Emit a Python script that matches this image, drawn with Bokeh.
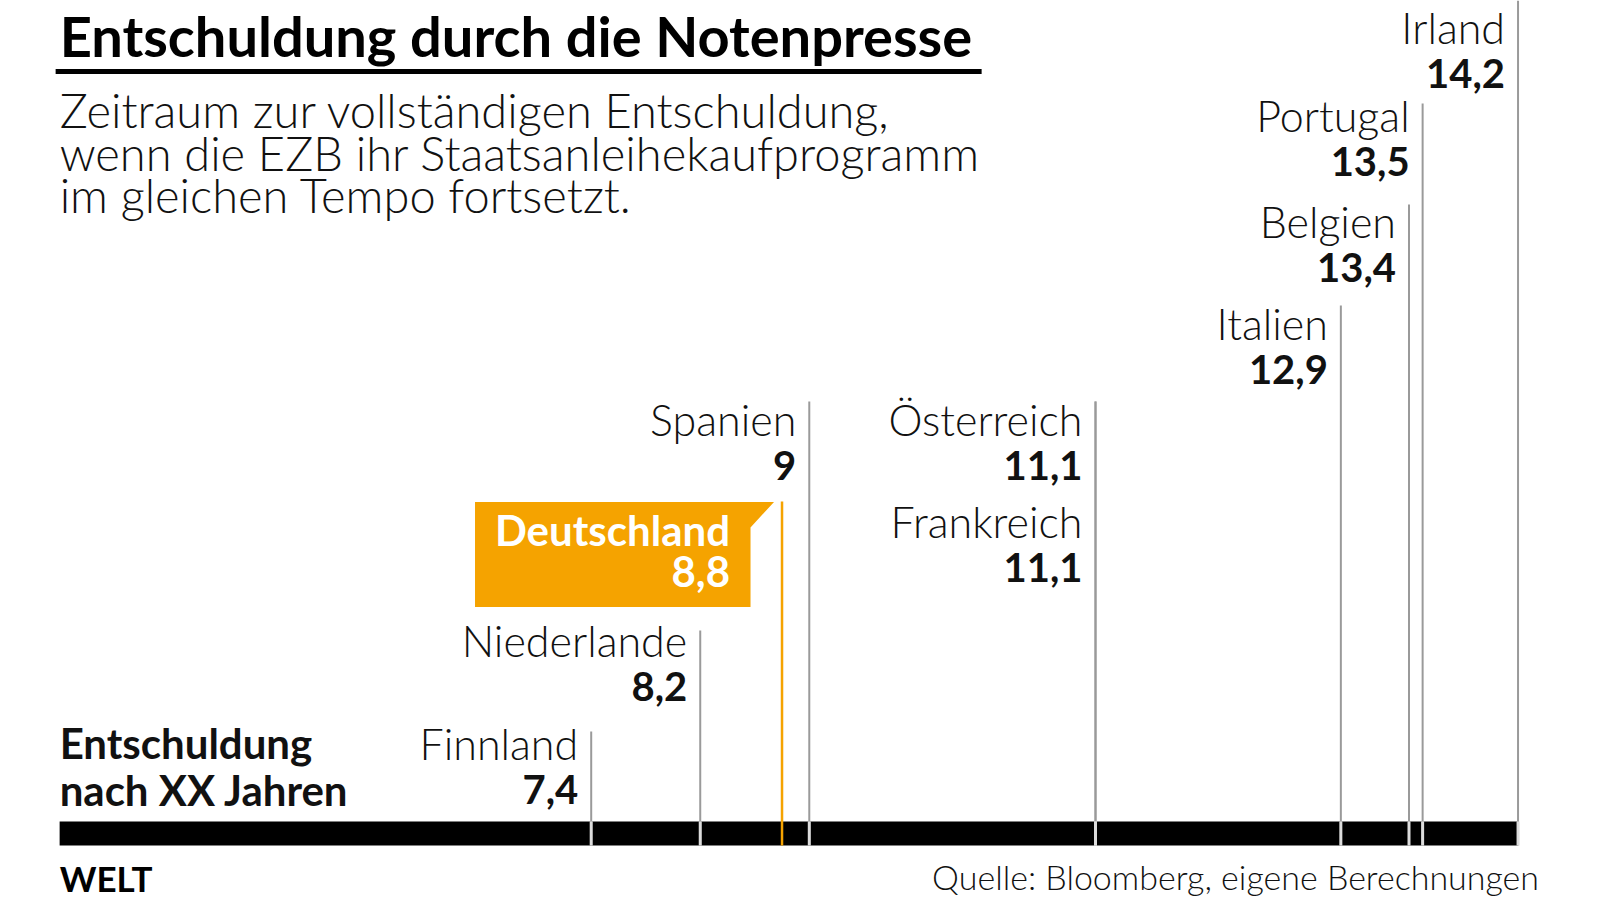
from bokeh.plotting import figure
from bokeh.models import Range1d, ColumnDataSource
from bokeh.core.properties import value
from bokeh.embed import file_html
from bokeh.resources import INLINE

# ---------------- data ----------------
countries = ["Finnland", "Niederlande", "Deutschland", "Spanien", "Österreich",
             "Frankreich", "Italien", "Belgien", "Portugal", "Irland"]
years = [7.4, 8.2, 8.8, 9.0, 11.1, 11.1, 12.9, 13.4, 13.5, 14.2]
year_labels = ["7,4", "8,2", "8,8", "9", "11,1", "11,1", "12,9", "13,4", "13,5", "14,2"]
highlight = "Deutschland"

title = "Entschuldung durch die Notenpresse"
subtitle = ["Zeitraum zur vollständigen Entschuldung,",
            "wenn die EZB ihr Staatsanleihekaufprogramm",
            "im gleichen Tempo fortsetzt."]
axis_label = ["Entschuldung", "nach XX Jahren"]
source_text = "Quelle: Bloomberg, eigene Berechnungen"
brand = "WELT"

# ---------------- layout (page pixels) ----------------
line_top = [731, 630, 501, 401, 401, 401, 305, 204, 103, 0]
name_base = [759, 656, 545, 435, 435, 537, 339, 237, 131, 43]
PX = 1 / 136.3          # data units per pixel
BAR_START = 3.5
LIGHT = value("Lato Light")
BOLD = value("Lato")
ORANGE = "#f5a300"
GREY = "#9a9a9a"
TXT = "#111111"
SHIFT = 0.37            # baseline correction (em) for the svg text renderer


def yoff(size):
    return -SHIFT * size


p = figure(width=1600, height=900, x_range=Range1d(3.0662, 14.805),
           y_range=Range1d(900, 0), output_backend="svg", toolbar_location=None,
           min_border=0, x_axis_location=None, y_axis_location=None)
p.grid.visible = False
p.outline_line_color = None
p.background_fill_color = "white"
p.border_fill_color = "white"

# base bar
p.quad(left=[BAR_START], right=[max(years)], top=[821], bottom=[845],
       fill_color="black", line_color=None)

others = [i for i, c in enumerate(countries) if c != highlight]
hi = countries.index(highlight)

seg = ColumnDataSource(dict(x=[years[i] for i in others],
                            y0=[line_top[i] for i in others]))
p.segment(x0="x", y0="y0", x1="x", y1=845, source=seg, line_color=GREY, line_width=2)
p.segment(x0="x", y0=821, x1="x", y1=845, source=seg, line_color="#dcdcdc", line_width=3)

# highlighted box with notch
xh = years[hi]
box_x = [xh - 307 * PX, xh - 8 * PX, xh - 31.5 * PX, xh - 31.5 * PX, xh - 307 * PX]
box_y = [501.5, 501.5, 527, 606.5, 606.5]
p.patch(box_x, box_y, fill_color=ORANGE, line_color=None)
p.segment(x0=[xh], y0=[line_top[hi]], x1=[xh], y1=[845], line_color=ORANGE, line_width=2.5)

# labels of the other countries
lab = ColumnDataSource(dict(
    x=[years[i] for i in others],
    name=[countries[i] for i in others],
    val=[year_labels[i] for i in others],
    yn=[name_base[i] for i in others],
    yv=[name_base[i] + 45 for i in others],
))
p.text(x="x", y="yn", text="name", source=lab, x_offset=-13, y_offset=yoff(43),
       text_align="right", text_baseline="alphabetic", text_font=LIGHT,
       text_font_size="43px", text_color=TXT)
p.text(x="x", y="yv", text="val", source=lab, x_offset=-13, y_offset=yoff(40),
       text_align="right", text_baseline="alphabetic", text_font=BOLD,
       text_font_style="bold", text_font_size="40px", text_color="#111111")

# highlighted label
p.text(x=[xh, xh], y=[name_base[hi], name_base[hi] + 42], text=[countries[hi], year_labels[hi]],
       x_offset=-52, y_offset=yoff(42), text_align="right", text_baseline="alphabetic",
       text_font=BOLD, text_font_style="bold", text_font_size="42px", text_color="white")

# title + rule
p.text(x=[BAR_START], y=[55.5], text=[title], y_offset=yoff(56), text_align="left",
       text_baseline="alphabetic", text_font=BOLD, text_font_style="bold",
       text_font_size="56px", text_color="black")
p.segment(x0=[BAR_START - 4 * PX], y0=[71], x1=[BAR_START + 922 * PX], y1=[71],
          line_color="black", line_width=5)

# subtitle
p.text(x=[BAR_START] * 3, y=[127, 170, 212], text=subtitle, y_offset=yoff(47),
       text_align="left", text_baseline="alphabetic", text_font=LIGHT,
       text_font_size="47px", text_color=TXT)

# axis label
p.text(x=[BAR_START] * 2, y=[758, 805], text=axis_label, y_offset=yoff(42),
       text_align="left", text_baseline="alphabetic", text_font=BOLD,
       text_font_style="bold", text_font_size="42px", text_color="#111111")

# footer
p.text(x=[BAR_START], y=[890], text=[brand], y_offset=yoff(35), text_align="left",
       text_baseline="alphabetic", text_font=BOLD, text_font_style="bold",
       text_font_size="35px", text_color="black")
p.text(x=[max(years)], y=[889], text=[source_text], x_offset=21, y_offset=yoff(34),
       text_align="right", text_baseline="alphabetic", text_font=LIGHT,
       text_font_size="34px", text_color=TXT)

open("out.html", "w").write(file_html(p, INLINE))
